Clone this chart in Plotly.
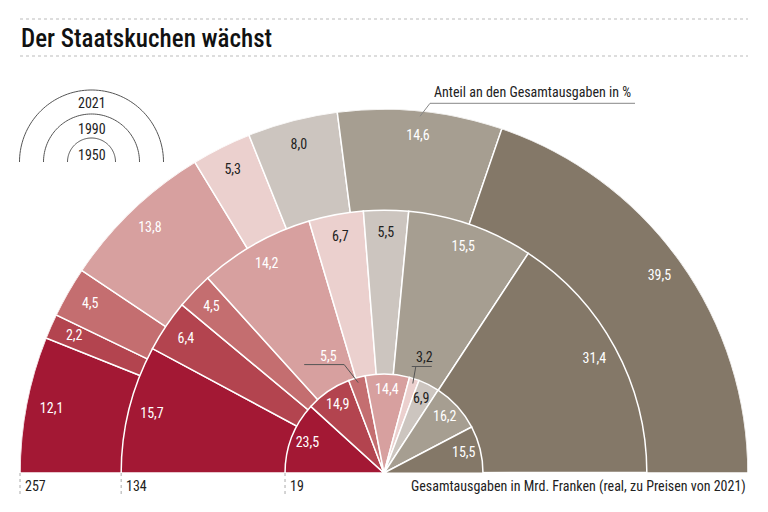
import numpy as np
import plotly.graph_objects as go

# ---------------- data ----------------
years = ["2021", "1990", "1950"]
totals = [257, 134, 19]  # Mrd. Franken
shares_2021 = [12.1, 2.2, 4.5, 13.8, 5.3, 8.0, 14.6, 39.5]
shares_1990 = [15.7, 6.4, 4.5, 14.2, 6.7, 5.5, 15.5, 31.4]
shares_1950 = [23.5, 14.9, 5.5, 14.4, 3.2, 6.9, 16.2, 15.5]
colors = ["#A31834", "#B3444F", "#C46E70", "#D7A09F", "#EBD0CE", "#CCC5BF", "#A69E91", "#847868"]
text_colors = ["white", "white", "white", "white", "#222222", "#222222", "white", "white"]

title = "Der Staatskuchen wächst"
share_note = "Anteil an den Gesamtausgaben in %"
axis_note = "Gesamtausgaben in Mrd. Franken (real, zu Preisen von 2021)"

FONT = "Roboto Condensed, Liberation Sans Narrow, DejaVu Sans Condensed, sans-serif"
W, H = 768, 512
CX, CY, RPX = 384, 473, 364  # polar centre / outer radius in px
RMAX = np.sqrt(max(totals))

shares = {"2021": shares_2021, "1990": shares_1990, "1950": shares_1950}
label_frac = {"2021": 0.93, "1990": 0.91, "1950": 0.83}
leader_idx_1950 = [2, 4]


def fmt(v):
    return f"{v:.1f}".replace(".", ",")


def to_px(theta_deg, r):
    """polar data coordinate -> pixel coordinate (theta 0 = left, clockwise)."""
    a = np.radians(180 - theta_deg)
    rp = r / RMAX * RPX
    return CX + rp * np.cos(a), CY - rp * np.sin(a)


fig = go.Figure()

geo = {}
for yr, tot in zip(years, totals):
    s = np.array(shares[yr])
    cum = np.cumsum(s)
    mid = (cum - s / 2) * 1.8
    width = s * 1.8
    r = np.sqrt(tot)
    geo[yr] = (mid, r)
    fig.add_trace(go.Barpolar(
        theta=mid, r=[r] * len(s), width=width,
        marker=dict(color=colors, line=dict(color="white", width=1.5)),
        hoverinfo="skip", showlegend=False, subplot="polar"))

for yr in years:
    mid, r = geo[yr]
    s = shares[yr]
    txt = [fmt(v) for v in s]
    if yr == "1950":
        for i in leader_idx_1950:
            txt[i] = ""
    fig.add_trace(go.Scatterpolar(
        theta=mid, r=[r * label_frac[yr]] * len(s), mode="text", text=txt,
        textfont=dict(family=FONT, size=14, color=text_colors),
        hoverinfo="skip", showlegend=False, subplot="polar"))

# helper cartesian axes in pixel space
fig.add_trace(go.Scatter(x=[0], y=[0], mode="markers", marker=dict(opacity=0),
                         hoverinfo="skip", showlegend=False))

shapes = []
annotations = []

# title rules
for yy in [19, 56]:
    shapes.append(dict(type="line", xref="x", yref="y", x0=20, x1=748, y0=yy, y1=yy,
                       line=dict(color="#BBBBBB", width=1, dash="dot")))
annotations.append(dict(x=19, y=38, xref="x", yref="y", text=title, showarrow=False,
                        xanchor="left", yanchor="middle",
                        font=dict(family=FONT, size=25, color="#111111", weight=500)))

# legend arcs
LX, LY = 91.5, 162
for rad, yr, ty in zip([72, 48, 24], years, [103, 129, 155]):
    t = np.linspace(0, np.pi, 80)
    pts = " L".join(f"{LX + rad*np.cos(a):.2f},{LY - rad*np.sin(a):.2f}" for a in t)
    shapes.append(dict(type="path", xref="x", yref="y", path="M" + pts,
                       line=dict(color="#555555", width=1)))
    annotations.append(dict(x=LX, y=ty, xref="x", yref="y", text=yr, showarrow=False,
                            font=dict(family=FONT, size=14, color="#222222")))

# baseline ticks and totals
for tot in totals:
    x0 = CX - np.sqrt(tot) / RMAX * RPX
    shapes.append(dict(type="line", xref="x", yref="y", x0=x0, x1=x0, y0=CY, y1=495,
                       line=dict(color="#AAAAAA", width=1, dash="dot")))
    annotations.append(dict(x=x0 + 3, y=486, xref="x", yref="y", text=str(tot),
                            showarrow=False, xanchor="left", yanchor="middle",
                            font=dict(family=FONT, size=14, color="#222222")))
annotations.append(dict(x=748, y=486, xref="x", yref="y", text=axis_note, showarrow=False,
                        xanchor="right", yanchor="middle",
                        font=dict(family=FONT, size=14, color="#222222")))

LEAD = "#555555"
# share note with leader to 2021 category 7
mid21, r21 = geo["2021"]
tx, ty = to_px(mid21[6], r21 * 0.985)
kx, ky = tx + 10, ty - 13
shapes.append(dict(type="path", xref="x", yref="y",
                   path=f"M{tx:.1f},{ty:.1f} L{kx:.1f},{ky:.1f} L{kx + 205:.1f},{ky:.1f}",
                   line=dict(color="#888888", width=1)))
annotations.append(dict(x=kx + 2, y=ky - 11, xref="x", yref="y", text=share_note,
                        showarrow=False, xanchor="left", yanchor="middle",
                        font=dict(family=FONT, size=14, color="#222222")))

# leader labels for small 1950 slices
mid50, r50 = geo["1950"]
cfg = {2: dict(knee=(-14, -18), line=(-40, 0), text=(-16, -9)),
       4: dict(knee=(3, -17), line=(-4, 16), text=(9, -9))}
for i, c in cfg.items():
    tx, ty = to_px(mid50[i], r50 * 0.95)
    kx, ky = tx + c["knee"][0], ty + c["knee"][1]
    l0, l1 = kx + c["line"][0], kx + c["line"][1]
    shapes.append(dict(type="path", xref="x", yref="y",
                       path=f"M{tx:.1f},{ty:.1f} L{kx:.1f},{ky:.1f}",
                       line=dict(color=LEAD, width=1)))
    shapes.append(dict(type="line", xref="x", yref="y", x0=l0, x1=l1, y0=ky, y1=ky,
                       line=dict(color=LEAD, width=1)))
    annotations.append(dict(x=kx + c["text"][0], y=ky + c["text"][1], xref="x", yref="y",
                            text=fmt(shares_1950[i]), showarrow=False,
                            xanchor="center", yanchor="middle",
                            font=dict(family=FONT, size=14, color=text_colors[i])))

fig.update_layout(
    width=W, height=H, margin=dict(l=0, r=0, t=0, b=0),
    paper_bgcolor="white", plot_bgcolor="rgba(0,0,0,0)",
    xaxis=dict(range=[0, W], visible=False, domain=[0, 1], fixedrange=True),
    yaxis=dict(range=[H, 0], visible=False, domain=[0, 1], fixedrange=True),
    polar=dict(
        domain=dict(x=[(CX - RPX) / W, (CX + RPX) / W], y=[(H - CY) / H, (H - CY + RPX) / H]),
        sector=[0, 180], hole=0, barmode="overlay", bgcolor="rgba(0,0,0,0)",
        radialaxis=dict(range=[0, RMAX], visible=False, showgrid=False),
        angularaxis=dict(direction="clockwise", rotation=180, visible=False,
                         showgrid=False, thetaunit="degrees"),
    ),
    shapes=shapes, annotations=annotations, showlegend=False,
)

fig.write_html("out.html", config={"displayModeBar": False},
               post_script="document.body.style.margin='0px';")
